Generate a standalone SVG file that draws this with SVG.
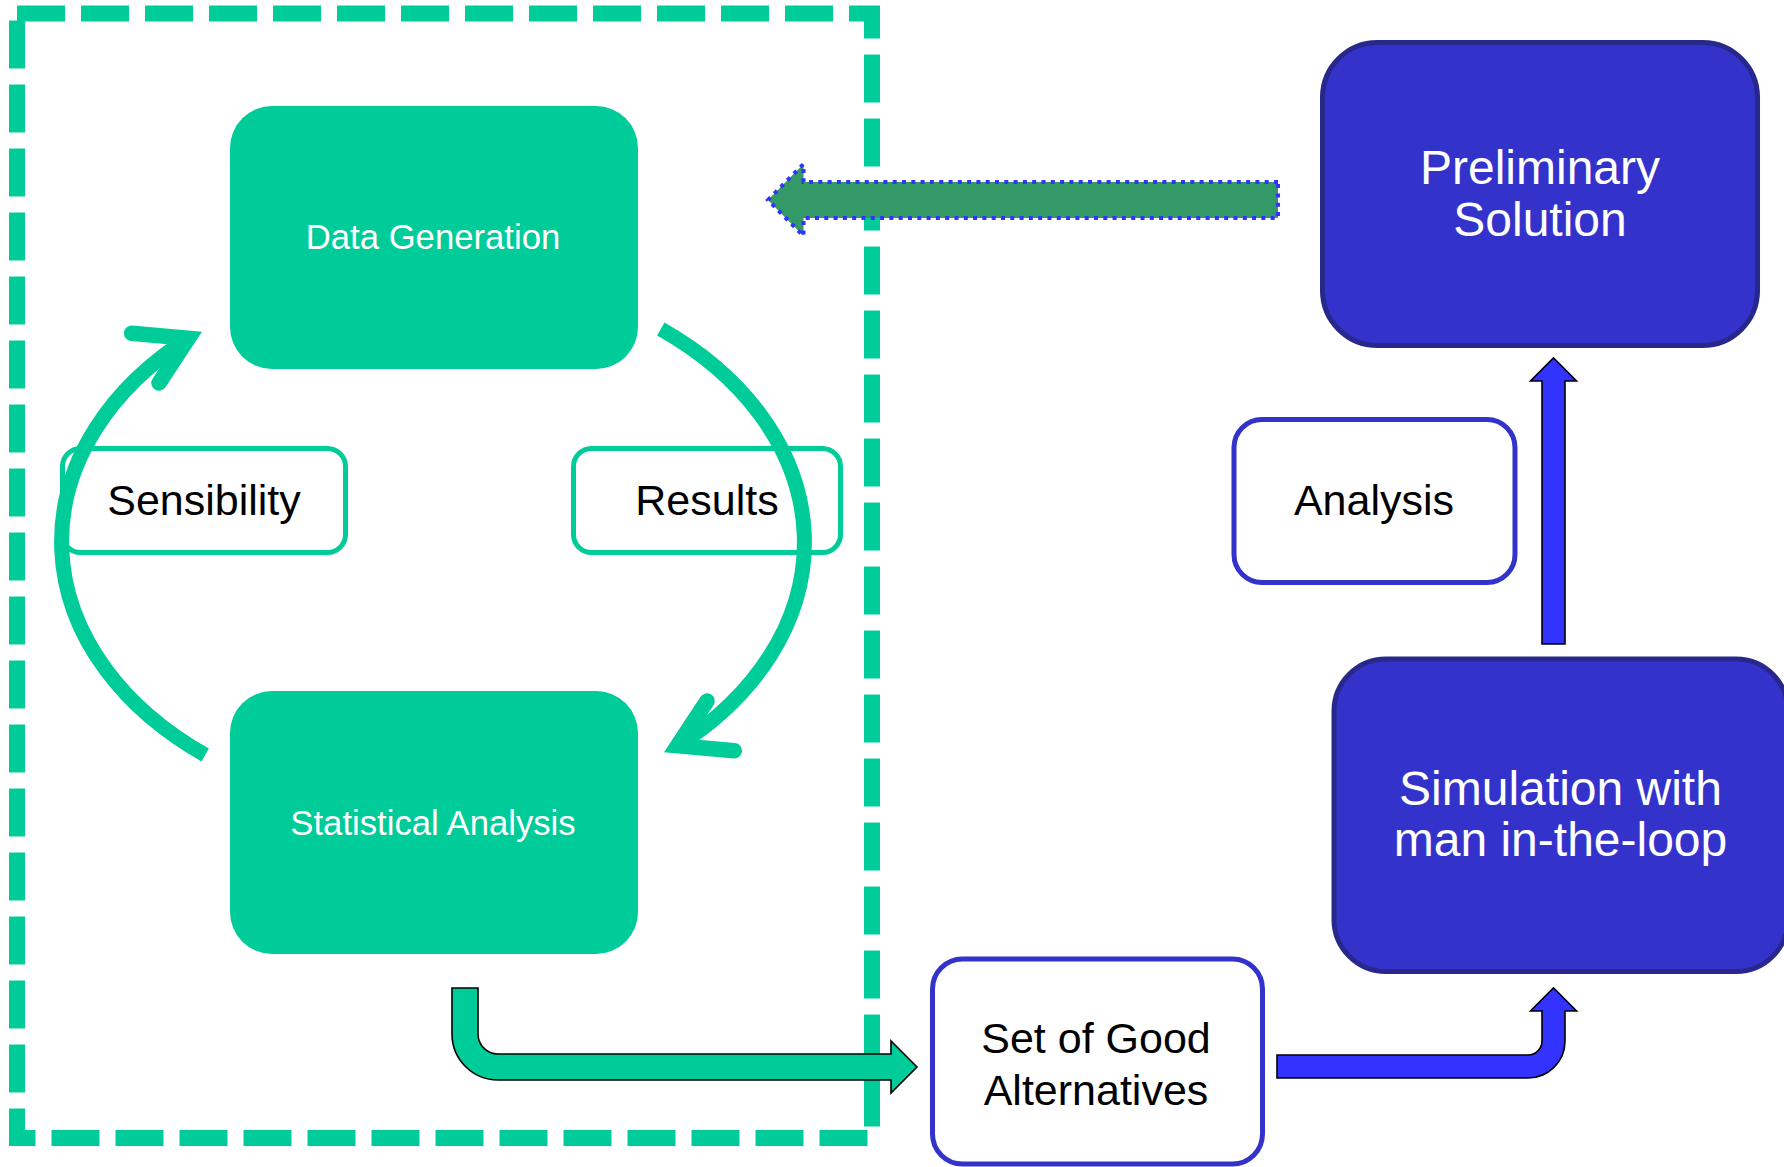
<svg xmlns="http://www.w3.org/2000/svg" width="1784" height="1167" viewBox="0 0 1784 1167">
<defs>
<style>
text{font-family:"Liberation Sans",Arial,sans-serif}
.gnode{fill:#00CC99}
.gtxt{fill:#FFFFFF;font-size:34.7px;text-anchor:middle}
.bnode{fill:#3333CC;stroke:#28288C;stroke-width:5}
.btxt{fill:#FFFFFF;font-size:48px;text-anchor:middle}
.glabel{fill:#FFFFFF;stroke:#00CC99;stroke-width:5}
.blabel{fill:#FFFFFF;stroke:#3333CC;stroke-width:5}
.ltxt{fill:#000000;font-size:43px;text-anchor:middle}
.loop{fill:none;stroke:#00CC99;stroke-width:15}
.chev{fill:none;stroke:#00CC99;stroke-width:15.5;stroke-linecap:round;stroke-linejoin:miter;stroke-miterlimit:6}
.blk{stroke:#000000;stroke-width:1.6;stroke-linejoin:miter}
</style>
</defs>
<rect width="1784" height="1167" fill="#FFFFFF"/>
<g id="boundary">
<rect x="17" y="13.5" width="855" height="1124.5" fill="none" stroke="#00CC99" stroke-width="16" stroke-dasharray="48 16"/>
</g>
<g id="label-sensibility">
<rect class="glabel" x="62.5" y="448.5" width="283" height="104" rx="18"/>
<text class="ltxt" x="204" y="515">Sensibility</text>
</g>
<g id="label-results">
<rect class="glabel" x="573.5" y="448.5" width="267" height="104" rx="18"/>
<text class="ltxt" x="707" y="515">Results</text>
</g>
<g id="node-data-generation">
<rect class="gnode" x="230" y="106" width="408" height="263" rx="42"/>
<text class="gtxt" x="433" y="249">Data Generation</text>
</g>
<g id="node-statistical-analysis">
<rect class="gnode" x="230" y="691" width="408" height="263" rx="42"/>
<text class="gtxt" x="433" y="835">Statistical Analysis</text>
</g>
<g id="node-preliminary-solution">
<rect class="bnode" x="1322.5" y="42.5" width="435" height="303" rx="55"/>
<text class="btxt" x="1540" y="184">Preliminary</text>
<text class="btxt" x="1540" y="236">Solution</text>
</g>
<g id="label-analysis">
<rect class="blabel" x="1234" y="419.5" width="281" height="163" rx="28"/>
<text class="ltxt" x="1374" y="515">Analysis</text>
</g>
<g id="node-simulation">
<rect class="bnode" x="1334" y="659" width="454" height="312.5" rx="52"/>
<text class="btxt" x="1560.5" y="805">Simulation with</text>
<text class="btxt" x="1560.5" y="856">man in-the-loop</text>
</g>
<g id="node-set-of-good-alternatives">
<rect class="blabel" x="932.5" y="959" width="330" height="205" rx="30"/>
<text class="ltxt" x="1096" y="1053">Set of Good</text>
<text class="ltxt" x="1096" y="1105">Alternatives</text>
</g>
<g id="connectors">
<g id="loop-left">
<path class="loop" d="M205.2,755 A371,270 0 0 1 188.4,338.4"/>
<path class="chev" d="M131.7,333.3 L188.4,338.4 L159,383"/>
</g>
<g id="loop-right" transform="rotate(180 433 542)">
<path class="loop" d="M205.2,755 A371,270 0 0 1 188.4,338.4"/>
<path class="chev" d="M131.7,333.3 L188.4,338.4 L159,383"/>
</g>
<path id="arrow-preliminary-to-data" d="M1278,182 L803.5,182 L803.5,164 L768,200 L803.5,236 L803.5,218 L1278,218 Z" fill="#339966" stroke="#3333FF" stroke-width="4" stroke-dasharray="4 5.3"/>
<path id="arrow-stat-to-set" class="blk" fill="#00CC99" d="M452,988 L478,988 L478,1034 A20,20 0 0 0 498,1054 L891,1054 L891,1041 L917,1067 L891,1093 L891,1080 L498,1080 A46,46 0 0 1 452,1034 Z"/>
<path id="arrow-set-to-sim" class="blk" fill="#3333FF" d="M1277,1055 L1528,1055 A14,14 0 0 0 1542,1041 L1542,1011 L1530.5,1011 L1553.5,988 L1576.5,1011 L1565,1011 L1565,1041 A37,37 0 0 1 1528,1078 L1277,1078 Z"/>
<path id="arrow-sim-to-prelim" class="blk" fill="#3333FF" d="M1542,644 L1542,381 L1530.5,381 L1553.5,358 L1576.5,381 L1565,381 L1565,644 Z"/>
</g>
</svg>
